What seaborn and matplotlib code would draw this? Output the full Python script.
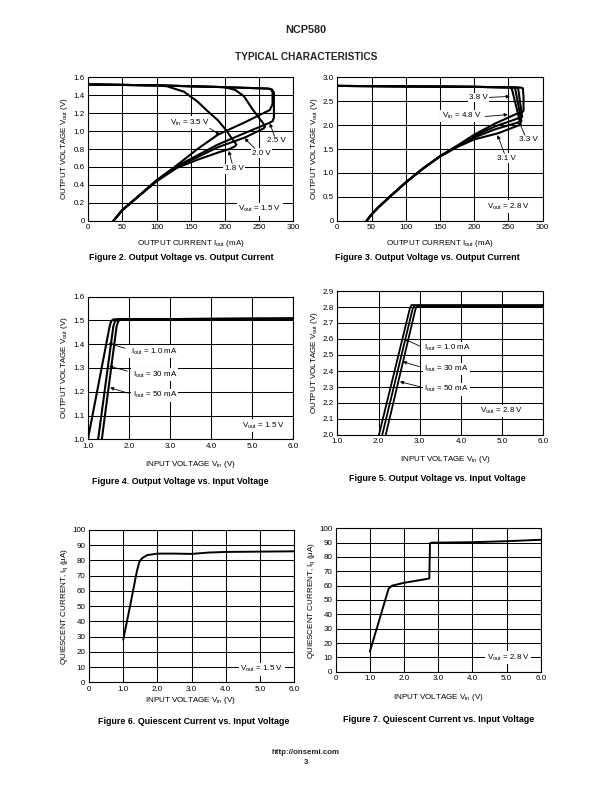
import matplotlib
matplotlib.use("Agg")
import matplotlib.pyplot as plt
import seaborn as sns
import pandas as pd

# ---------------- data ----------------
# Figure 2: Vout vs Iout (Vout = 1.5 V)
f2_vin35_i = [0, 50, 100, 150, 200, 240, 262, 267, 270, 270, 266, 230, 190, 160, 130, 100, 70, 50, 37]
f2_vin35_v = [1.52, 1.515, 1.51, 1.50, 1.49, 1.48, 1.475, 1.47, 1.44, 1.30, 1.235, 1.10, 0.96, 0.80, 0.62, 0.45, 0.25, 0.12, 0.0]
f2_vin25_i = [0, 50, 100, 150, 200, 240, 264, 269, 272, 272, 270, 265, 230, 190, 160, 130, 100, 70, 50, 37]
f2_vin25_v = [1.52, 1.515, 1.51, 1.50, 1.49, 1.48, 1.473, 1.465, 1.43, 1.15, 1.11, 1.09, 0.98, 0.85, 0.73, 0.61, 0.45, 0.25, 0.12, 0.0]
f2_vin20_i = [0, 50, 100, 150, 200, 215, 228, 241, 250, 256, 259, 257, 230, 190, 160, 130, 100, 70, 50, 37]
f2_vin20_v = [1.52, 1.515, 1.51, 1.50, 1.49, 1.46, 1.39, 1.24, 1.15, 1.09, 1.05, 1.03, 0.93, 0.82, 0.71, 0.60, 0.44, 0.25, 0.12, 0.0]
f2_vin18_i = [0, 50, 100, 115, 140, 160, 173, 190, 202, 212, 217, 215, 207, 190, 160, 130, 100, 70, 50, 37]
f2_vin18_v = [1.52, 1.515, 1.51, 1.50, 1.44, 1.33, 1.235, 1.12, 1.01, 0.90, 0.85, 0.83, 0.80, 0.76, 0.68, 0.59, 0.44, 0.25, 0.12, 0.0]

# Figure 3: Vout vs Iout (Vout = 2.8 V)
f3_vin48_i = [0, 100, 200, 250, 268, 271, 272, 272, 270, 264, 230, 200, 175, 150, 125, 100, 75, 60, 50, 43]
f3_vin48_v = [2.82, 2.81, 2.80, 2.79, 2.785, 2.77, 2.60, 2.30, 2.27, 2.25, 2.03, 1.80, 1.57, 1.35, 1.09, 0.80, 0.48, 0.28, 0.13, 0.0]
f3_vin38_i = [0, 100, 200, 250, 264, 270, 266, 230, 200, 175, 150, 125, 100, 75, 60, 50, 43]
f3_vin38_v = [2.82, 2.81, 2.80, 2.79, 2.785, 2.17, 2.15, 1.97, 1.77, 1.56, 1.35, 1.09, 0.80, 0.48, 0.28, 0.13, 0.0]
f3_vin33_i = [0, 100, 200, 250, 259.5, 269, 265, 230, 200, 175, 150, 125, 100, 75, 60, 50, 43]
f3_vin33_v = [2.82, 2.81, 2.80, 2.79, 2.785, 2.08, 2.06, 1.91, 1.74, 1.55, 1.35, 1.09, 0.80, 0.48, 0.28, 0.13, 0.0]
f3_vin31_i = [0, 100, 200, 250, 254.5, 268, 264, 235, 200, 175, 150, 125, 100, 75, 60, 50, 43]
f3_vin31_v = [2.82, 2.81, 2.80, 2.79, 2.785, 2.00, 1.99, 1.83, 1.70, 1.54, 1.34, 1.09, 0.80, 0.48, 0.28, 0.13, 0.0]

# Figure 4: Vout vs Vin (Vout = 1.5 V)
f4_vin_1ma = [0.99, 1.52, 1.56, 1.62, 6.0]
f4_vout_1ma = [1.0, 1.475, 1.498, 1.505, 1.508]
f4_vin_30ma = [1.24, 1.61, 1.65, 1.72, 6.0]
f4_vout_30ma = [1.0, 1.475, 1.497, 1.505, 1.508]
f4_vin_50ma = [1.33, 1.69, 1.73, 1.80, 6.0]
f4_vout_50ma = [1.0, 1.475, 1.497, 1.505, 1.508]

# Figure 5: Vout vs Vin (Vout = 2.8 V)
f5_vin_1ma = [2.01, 2.76, 2.80, 6.0]
f5_vout_1ma = [2.0, 2.79, 2.812, 2.812]
f5_vin_30ma = [2.09, 2.83, 2.87, 6.0]
f5_vout_30ma = [2.0, 2.79, 2.808, 2.808]
f5_vin_50ma = [2.175, 2.90, 2.94, 6.0]
f5_vout_50ma = [2.0, 2.79, 2.802, 2.802]

# Figure 6: Iq vs Vin (Vout = 1.5 V)
f6_vin = [1.0, 1.2, 1.4, 1.47, 1.55, 1.7, 2.0, 2.5, 3.0, 3.5, 4.0, 5.0, 6.0]
f6_iq = [28, 50, 73, 79, 81.5, 83.5, 84.5, 84.5, 84.3, 85.2, 85.6, 85.8, 86]

# Figure 7: Iq vs Vin (Vout = 2.8 V)
f7_vin = [1.0, 1.3, 1.55, 1.65, 2.0, 2.5, 2.74, 2.76, 2.8, 3.0, 4.0, 5.0, 6.0]
f7_iq = [14, 38, 58, 60, 62, 64, 65, 89.5, 90, 90, 90.3, 91, 92]

# ---------------- style ----------------
sns.set_theme(style="white")
plt.rcParams["font.family"] = ["Liberation Sans", "DejaVu Sans"]
plt.rcParams["mathtext.fontset"] = "custom"
plt.rcParams["mathtext.rm"] = "Liberation Sans"
plt.rcParams["mathtext.it"] = "Liberation Sans:italic"
plt.rcParams["mathtext.bf"] = "Liberation Sans:bold"

W, H = 612, 792
fig = plt.figure(figsize=(6.12, 7.92), dpi=100)
fig.patch.set_facecolor("white")

FS = 5.8
CAP = 6.4


def add_ax(l, r, t, b):
    return fig.add_axes([l / W, 1 - b / H, (r - l) / W, (b - t) / H])


def style(ax, xlim, ylim, xt, xtl, yt, ytl, xlabel, ylabel, l, r, t, b, xl_px, yl_px):
    ax.set_xlim(*xlim)
    ax.set_ylim(*ylim)
    ax.set_xticks(xt)
    ax.set_xticklabels(xtl)
    ax.set_yticks(yt)
    ax.set_yticklabels(ytl)
    ax.tick_params(length=0, labelsize=FS, pad=2.5, colors="black")
    ax.grid(True, color="black", lw=0.75)
    ax.set_axisbelow(True)
    for s in ax.spines.values():
        s.set_color("black")
        s.set_linewidth(0.8)
    ax.set_xlabel(xlabel, fontsize=FS, color="black", va="center")
    ax.set_ylabel(ylabel, fontsize=FS, color="black", va="center", ha="center")
    ax.xaxis.set_label_coords((xl_px[0] - l) / (r - l), (b - xl_px[1]) / (b - t))
    ax.yaxis.set_label_coords((yl_px[0] - l) / (r - l), (b - yl_px[1]) / (b - t))


def curve(ax, x, y, lw):
    df = pd.DataFrame({"x": x, "y": y})
    sns.lineplot(data=df, x="x", y="y", ax=ax, sort=False, estimator=None,
                 color="black", linewidth=lw)


def label(ax, x, y, s, ha="center"):
    ax.text(x, y, s, ha=ha, va="center", fontsize=FS, color="black",
            bbox=dict(facecolor="white", edgecolor="none", pad=1.0), zorder=4)


def arrow(ax, start, tip):
    ax.annotate("", xy=tip, xytext=start,
                arrowprops=dict(arrowstyle="-|>", color="black", lw=0.6,
                                mutation_scale=5, shrinkA=0, shrinkB=0), zorder=5)


def caption(x, y, s):
    fig.text(x / W, 1 - y / H, s, ha="center", va="center", fontsize=CAP,
             fontweight="bold", color="black")


# Header / footer
fig.text(306 / W, 1 - 30 / H, "NCP580", ha="center", va="center", fontsize=7.8, fontweight="bold")
fig.text(306 / W, 1 - 57 / H, "TYPICAL CHARACTERISTICS", ha="center", va="center", fontsize=7.3, fontweight="bold")
fig.text(306 / W, 1 - 752 / H, "http://onsemi.com", ha="center", va="center", fontsize=5.7, fontweight="bold")
fig.text(306 / W, 1 - 763 / H, "3", ha="center", va="center", fontsize=5.7, fontweight="bold")

VOUT = r"V$_\mathregular{out}$"
VIN = r"V$_\mathregular{in}$"
IOUT = r"I$_\mathregular{out}$"

# ---------------- Figure 2 ----------------
l, r, t, b = 88.3, 293.0, 77.3, 220.7
ax2 = add_ax(l, r, t, b)
for xi, yi in [(f2_vin35_i, f2_vin35_v), (f2_vin25_i, f2_vin25_v),
               (f2_vin20_i, f2_vin20_v), (f2_vin18_i, f2_vin18_v)]:
    curve(ax2, xi, yi, 1.5)
style(ax2, (0, 300), (0, 1.6), [0, 50, 100, 150, 200, 250, 300],
      ["0", "50", "100", "150", "200", "250", "300"],
      [0, 0.2, 0.4, 0.6, 0.8, 1.0, 1.2, 1.4, 1.6],
      ["0", "0.2", "0.4", "0.6", "0.8", "1.0", "1.2", "1.4", "1.6"],
      "OUTPUT CURRENT " + IOUT + " (mA)", "OUTPUT VOLTAGE " + VOUT + " (V)",
      l, r, t, b, (190.5, 243.3), (64, 149))
label(ax2, 149, 1.094, VIN + " = 3.5 V")
arrow(ax2, (178, 1.03), (193, 0.956))
label(ax2, 276, 0.89, "2.5 V")
arrow(ax2, (273, 0.94), (266, 1.087))
label(ax2, 253.7, 0.752, "2.0 V")
arrow(ax2, (244, 0.808), (229, 0.919))
label(ax2, 213.7, 0.577, "1.8 V")
arrow(ax2, (210.8, 0.64), (206, 0.778))
label(ax2, 251, 0.127, VOUT + " = 1.5 V")
caption(181.5, 257.7, "Figure 2. Output Voltage vs. Output Current")

# ---------------- Figure 3 ----------------
l, r, t, b = 337.3, 542.7, 77.3, 220.7
ax3 = add_ax(l, r, t, b)
for xi, yi in [(f3_vin48_i, f3_vin48_v), (f3_vin38_i, f3_vin38_v),
               (f3_vin33_i, f3_vin33_v), (f3_vin31_i, f3_vin31_v)]:
    curve(ax3, xi, yi, 1.5)
style(ax3, (0, 300), (0, 3.0), [0, 50, 100, 150, 200, 250, 300],
      ["0", "50", "100", "150", "200", "250", "300"],
      [0, 0.5, 1.0, 1.5, 2.0, 2.5, 3.0],
      ["0", "0.5", "1.0", "1.5", "2.0", "2.5", "3.0"],
      "OUTPUT CURRENT " + IOUT + " (mA)", "OUTPUT VOLTAGE " + VOUT + " (V)",
      l, r, t, b, (440, 243.3), (314.3, 149))
label(ax3, 206, 2.58, "3.8 V")
arrow(ax3, (222, 2.58), (252, 2.6))
label(ax3, 181.7, 2.19, VIN + " = 4.8 V")
arrow(ax3, (216, 2.18), (249, 2.22))
label(ax3, 279, 1.70, "3.3 V")
arrow(ax3, (274, 1.79), (264.5, 2.1))
label(ax3, 247, 1.305, "3.1 V")
arrow(ax3, (244, 1.41), (234, 1.79))
label(ax3, 250, 0.29, VOUT + " = 2.8 V")
caption(427.5, 257.7, "Figure 3. Output Voltage vs. Output Current")

# ---------------- Figure 4 ----------------
l, r, t, b = 88.3, 293.3, 296.7, 439.3
ax4 = add_ax(l, r, t, b)
for xi, yi in [(f4_vin_1ma, f4_vout_1ma), (f4_vin_30ma, f4_vout_30ma),
               (f4_vin_50ma, f4_vout_50ma)]:
    curve(ax4, xi, yi, 1.5)
style(ax4, (1.0, 6.0), (1.0, 1.6), [1, 2, 3, 4, 5, 6],
      ["1.0", "2.0", "3.0", "4.0", "5.0", "6.0"],
      [1.0, 1.1, 1.2, 1.3, 1.4, 1.5, 1.6],
      ["1.0", "1.1", "1.2", "1.3", "1.4", "1.5", "1.6"],
      "INPUT VOLTAGE " + VIN + " (V)", "OUTPUT VOLTAGE " + VOUT + " (V)",
      l, r, t, b, (190, 465), (65, 368))
label(ax4, 2.03, 1.369, IOUT + " = 1.0 mA", ha="left")
arrow(ax4, (1.895, 1.383), (1.49, 1.404))
label(ax4, 2.08, 1.273, IOUT + " = 30 mA", ha="left")
arrow(ax4, (1.95, 1.287), (1.505, 1.308))
label(ax4, 2.08, 1.186, IOUT + " = 50 mA", ha="left")
arrow(ax4, (1.976, 1.194), (1.53, 1.217))
label(ax4, 5.27, 1.057, VOUT + " = 1.5 V")
caption(180, 481.7, "Figure 4. Output Voltage vs. Input Voltage")

# ---------------- Figure 5 ----------------
l, r, t, b = 337.3, 543.3, 291.0, 435.0
ax5 = add_ax(l, r, t, b)
for xi, yi in [(f5_vin_1ma, f5_vout_1ma), (f5_vin_30ma, f5_vout_30ma),
               (f5_vin_50ma, f5_vout_50ma)]:
    curve(ax5, xi, yi, 1.3)
style(ax5, (1.0, 6.0), (2.0, 2.9), [1, 2, 3, 4, 5, 6],
      ["1.0", "2.0", "3.0", "4.0", "5.0", "6.0"],
      [2.0, 2.1, 2.2, 2.3, 2.4, 2.5, 2.6, 2.7, 2.8, 2.9],
      ["2.0", "2.1", "2.2", "2.3", "2.4", "2.5", "2.6", "2.7", "2.8", "2.9"],
      "INPUT VOLTAGE " + VIN + " (V)", "OUTPUT VOLTAGE " + VOUT + " (V)",
      l, r, t, b, (445, 459.3), (315, 363))
label(ax5, 3.11, 2.542, IOUT + " = 1.0 mA", ha="left")
arrow(ax5, (3.0, 2.556), (2.64, 2.598))
label(ax5, 3.11, 2.4125, IOUT + " = 30 mA", ha="left")
arrow(ax5, (3.0, 2.427), (2.59, 2.458))
label(ax5, 3.11, 2.286, IOUT + " = 50 mA", ha="left")
arrow(ax5, (3.0, 2.302), (2.52, 2.333))
label(ax5, 4.99, 2.15, VOUT + " = 2.8 V")
caption(437.5, 478.3, "Figure 5. Output Voltage vs. Input Voltage")

# ---------------- Figure 6 ----------------
l, r, t, b = 89.0, 294.3, 530.0, 682.3
ax6 = add_ax(l, r, t, b)
curve(ax6, f6_vin, f6_iq, 1.4)
style(ax6, (0, 6.0), (0, 100), [0, 1, 2, 3, 4, 5, 6],
      ["0", "1.0", "2.0", "3.0", "4.0", "5.0", "6.0"],
      list(range(0, 101, 10)), [str(v) for v in range(0, 101, 10)],
      "INPUT VOLTAGE " + VIN + " (V)", "QUIESCENT CURRENT, I$_\\mathregular{q}$ (\u03bcA)",
      l, r, t, b, (190, 700), (65, 606))
label(ax6, 5.05, 8.5, VOUT + " = 1.5 V")
caption(193.3, 721.7, "Figure 6. Quiescent Current vs. Input Voltage")

# ---------------- Figure 7 ----------------
l, r, t, b = 335.7, 540.7, 528.3, 671.7
ax7 = add_ax(l, r, t, b)
curve(ax7, f7_vin, f7_iq, 1.4)
style(ax7, (0, 6.0), (0, 100), [0, 1, 2, 3, 4, 5, 6],
      ["0", "1.0", "2.0", "3.0", "4.0", "5.0", "6.0"],
      list(range(0, 101, 10)), [str(v) for v in range(0, 101, 10)],
      "INPUT VOLTAGE " + VIN + " (V)", "QUIESCENT CURRENT, I$_\\mathregular{q}$ (\u03bcA)",
      l, r, t, b, (438.3, 697.7), (311.7, 600))
label(ax7, 5.05, 9.8, VOUT + " = 2.8 V")
caption(438.8, 719.3, "Figure 7. Quiescent Current vs. Input Voltage")

fig.savefig("out.png", dpi=100, facecolor="white")
